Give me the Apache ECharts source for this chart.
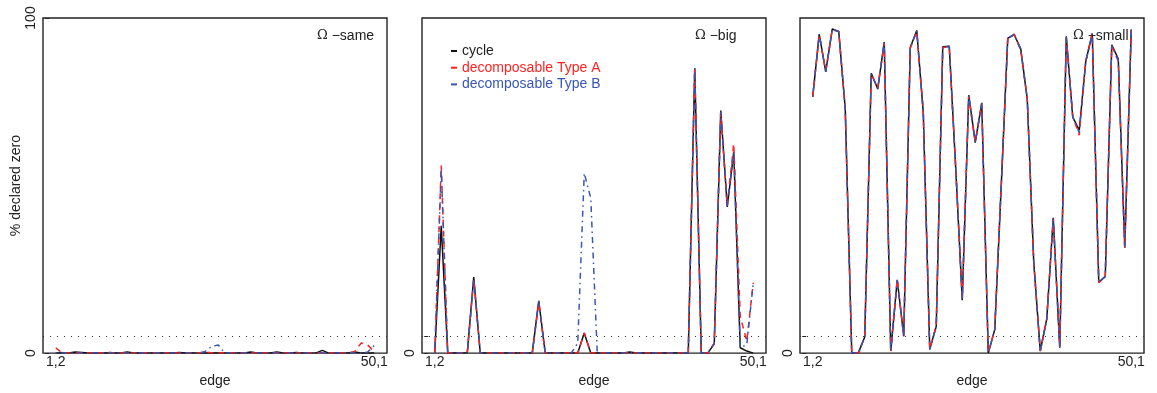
<!DOCTYPE html>
<html><head><meta charset="utf-8">
<script src="https://cdn.jsdelivr.net/npm/echarts@6/dist/echarts.min.js"></script>
<style>html,body{margin:0;padding:0;background:#fff}#c{width:1157px;height:393px}</style>
</head><body><div id="c"></div>
<script>
// ---------- data ----------
const edges = ["1,2","2,3","3,4","4,5","5,6","6,7","7,8","8,9","9,10","10,11",
  "11,12","12,13","13,14","14,15","15,16","16,17","17,18","18,19","19,20","20,21",
  "21,22","22,23","23,24","24,25","25,26","26,27","27,28","28,29","29,30","30,31",
  "31,32","32,33","33,34","34,35","35,36","36,37","37,38","38,39","39,40","40,41",
  "41,42","42,43","43,44","44,45","45,46","46,47","47,48","48,49","49,50","50,1"];
const xTickEdges = [1, 50];
const seriesNames = ["cycle", "decomposable Type A", "decomposable Type B"];
const panelNames = ["same", "big", "small"];
const threshold = 5;
const yTicksFirst = [0, 100];
const yLabelsFirst = [0, 100];
const yTicksOther = [0, 5];
const yLabelsOther = [0];

const sameCycle = [0,0,0,0.3,0.2,0,0,0,0,0, 0,0.3,0,0,0,0,0,0,0,0.2, 0,0,0,0,0,0,0,0,0,0, 0.3,0,0,0,0.3,0,0,0.2,0,0, 0,0.8,0,0,0,0,0.3,0,0,0];
const sameTypeA = [1.6,0,0,0,0,0,0,0,0.3,0, 0,0,0,0,0,0,0,0,0,0, 0,0,0,0.4,0,0,0,0,0,0, 0,0,0,0,0,0,0,0,0,0, 0,0,0,0,0,0,0.5,3.0,2.4,0.4];
const sameTypeB = [0,0,0,0,0,0,0,0,0,0, 0,0,0,0,0,0,0,0,0,0, 0,0,0,0.5,2.0,2.4,0,0,0,0, 0,0,0,0,0,0,0,0,0,0, 0,0,0,0,0,0,0,0,0.3,2.3];

const bigCycle = [0,38,0,0,0,0,22.7,0,0,0, 0,0,0,0,0,0,15.6,0,0,0, 0,0,0,6,0,0,0,0,0,0, 0.3,0,0,0,0,0,0,0,0,0, 85,0,0,2.8,72.4,43.6,60,1.6,0.6,0];
const bigTypeA = [0,56,0,0,0,0,22,0,0,0, 0,0,0,0,0,0,15,0,0,0, 0,0,0,6,0,0,0,0,0,0, 0,0,0,0,0,0,0,0,0,0, 85,0,0,3,72,44,62.5,11,3.5,21];
const bigTypeB = [0,55,0,0,0,0,22,0,0,0, 0,0,0,0,0,0,15.6,0,0,0, 0,0,3,53.7,46.3,0,0,0,0,0, 0,0,0,0,0,0,0,0,0,0, 85,0,0,2.8,72,44,60,1.6,2.5,21];

const smallCycle = [76.6,95.2,83.9,96.7,96.0,72.9,0,0,4.8,83.5, 78.8,92.8,0.6,21.9,5.0,91.2,96.3,71.9,1.1,8.0, 91.4,91.6,55,15.8,77.0,62.8,74.7,0,7.0,50, 94.0,95.0,90.8,75.8,27,0.6,10.2,40.4,1.6,94.5, 70.4,66.5,87.1,95.3,21.2,22.8,92.0,87.8,31.6,96.6];
const smallTypeA = [76.4,95.0,84.2,96.5,96.0,72.6,0,0,4.9,83.2, 79.2,92.6,0.7,22.0,5.1,91.0,96.0,72.2,1.2,8.1, 91.2,91.4,55.2,16.0,76.8,63.0,74.5,0,7.1,50.2, 93.8,95.2,90.4,76.0,27.2,0.7,10.0,40.2,1.8,94.2, 70.6,65.0,87.0,95.5,21.0,23.0,91.6,87.2,31.4,96.4];
const smallTypeB = [76.5,95.1,84.0,96.6,95.9,72.8,0,0,4.8,83.4, 79.0,92.7,0.6,21.8,5.0,91.1,96.2,72.0,1.1,8.0, 91.3,91.5,55.1,15.9,76.9,62.9,74.6,0,7.0,50.1, 93.9,95.1,90.6,75.9,27.1,0.6,10.1,40.3,1.7,94.4, 70.5,65.8,87.0,95.4,21.1,22.9,91.8,87.5,31.5,96.5];

const panels = [
  [sameCycle, sameTypeA, sameTypeB],
  [bigCycle, bigTypeA, bigTypeB],
  [smallCycle, smallTypeA, smallTypeB]
];

// ---------- styles ----------
const FONT = "Liberation Sans";
const FS = 14;
const TXT = "#222";
const colors = ["#111111", "#ff2222", "#3a56b4"];
const dashes = ["solid", [6, 5], [1.5, 4, 6, 4]];
const gridLefts = [43, 422, 800];
const gridWidth = 344;
const titleLefts = [312, 690, 1068];

const n = edges.length;
const pad = 0.04 * (n - 1);

const grids = [], xAxes = [], yAxes = [], series = [], titles = [];
panels.forEach((arrs, p) => {
  grids.push({left: gridLefts[p], top: 18, width: gridWidth, height: 339, show: true,
    borderColor: "#222", borderWidth: 1.4, backgroundColor: "transparent"});
  xAxes.push({type: "value", gridIndex: p, min: 1 - pad, max: n + pad,
    name: "edge", nameLocation: "middle", nameGap: 13,
    nameTextStyle: {fontFamily: FONT, fontSize: FS, color: TXT},
    axisLine: {show: false}, axisTick: {show: false}, splitLine: {show: false},
    axisLabel: {customValues: xTickEdges, formatter: v => edges[Math.round(v) - 1],
      fontFamily: FONT, fontSize: FS, color: TXT, margin: 2}});
  const first = p === 0;
  yAxes.push({type: "value", gridIndex: p, min: 0, max: 100,
    name: first ? "% declared zero" : "", nameLocation: "middle", nameGap: 16,
    nameTextStyle: {fontFamily: FONT, fontSize: FS, color: TXT},
    axisLine: {show: false}, splitLine: {show: false},
    axisTick: {show: true, length: 4, customValues: first ? yTicksFirst : yTicksOther,
      lineStyle: {color: "#222"}},
    axisLabel: {rotate: 90, customValues: first ? yLabelsFirst : yLabelsOther,
      fontFamily: FONT, fontSize: FS, color: TXT, margin: 5}});
  arrs.forEach((vals, s) => {
    const ser = {type: "line", name: seriesNames[s], xAxisIndex: p, yAxisIndex: p,
      data: vals.map((v, i) => [i + 1, v]), showSymbol: false, symbol: "none",
      color: colors[s], z: 2 + s,
      lineStyle: {color: colors[s], width: 1.5, type: dashes[s]}};
    if (s === 0) {
      ser.markLine = {silent: true, symbol: "none", label: {show: false},
        lineStyle: {color: "#333", width: 1.2, type: [1, 6]},
        data: [{yAxis: threshold}]};
    }
    series.push(ser);
  });
  titles.push({left: titleLefts[p], top: 24,
    text: "{o|Ω} −" + panelNames[p],
    textStyle: {fontFamily: FONT, fontSize: FS, fontWeight: "normal", color: TXT,
      rich: {o: {fontFamily: "DejaVu Serif", fontSize: 13, color: TXT}}}});
});

const chart = echarts.init(document.getElementById("c"), null, {renderer: "canvas"});
chart.setOption({
  animation: false,
  backgroundColor: "#fff",
  title: titles,
  grid: grids, xAxis: xAxes, yAxis: yAxes, series: series,
  legend: {left: 446, top: 39, orient: "vertical", icon: "rect", itemWidth: 6, itemHeight: 2,
    itemGap: 2.7, selectedMode: false,
    itemStyle: {borderWidth: 0}, lineStyle: {width: 0},
    textStyle: {fontFamily: FONT, fontSize: FS, lineHeight: 14},
    data: [
      {name: seriesNames[0], textStyle: {color: TXT}},
      {name: seriesNames[1], textStyle: {color: colors[1]}},
      {name: seriesNames[2], textStyle: {color: colors[2]}}
    ]}
});
</script></body></html>
